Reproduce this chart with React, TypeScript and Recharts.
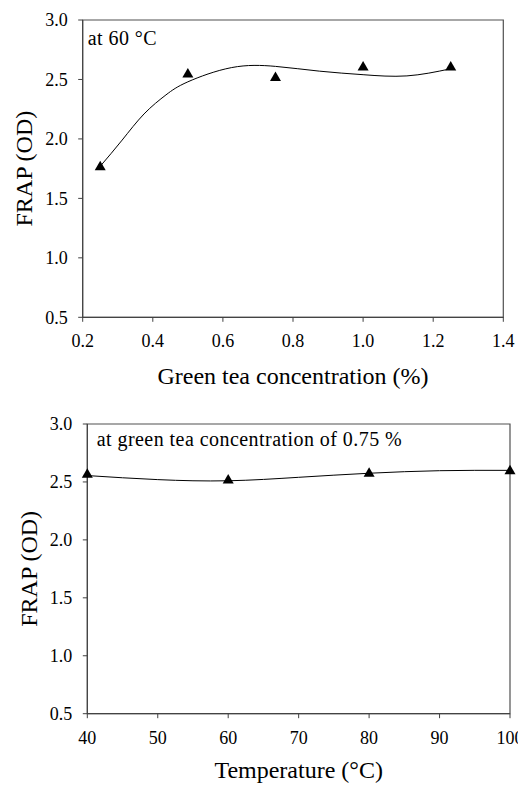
import React from "react";
import {
  ComposedChart,
  Line,
  Scatter,
  XAxis,
  YAxis,
  ReferenceArea,
} from "recharts";

// top panel: FRAP vs green tea concentration at 60 °C
const concMeasured = [0.25, 0.5, 0.75, 1.0, 1.25];
const frapByConc = [1.77, 2.55, 2.52, 2.61, 2.61];
const concTrendX = [0.25, 0.3125, 0.375, 0.4375, 0.5, 0.625, 0.75, 0.875, 1.0, 1.125, 1.25];
const concTrendY = [1.77, 1.99, 2.21, 2.37, 2.48, 2.6, 2.61, 2.57, 2.54, 2.53, 2.59];
const concTicks = [0.2, 0.4, 0.6, 0.8, 1.0, 1.2, 1.4];

// bottom panel: FRAP vs temperature at 0.75 % green tea
const tempMeasured = [40, 60, 80, 100];
const frapByTemp = [2.57, 2.52, 2.58, 2.6];
const tempTrendX = [40, 50, 60, 70, 80, 90, 100];
const tempTrendY = [2.555, 2.52, 2.51, 2.54, 2.575, 2.597, 2.6];
const tempTicks = [40, 50, 60, 70, 80, 90, 100];

const frapTicks = [0.5, 1.0, 1.5, 2.0, 2.5, 3.0];

const zip = (xs: number[], ys: number[]) => xs.map((x, i) => ({ x, y: ys[i] }));

const FONT = '"Liberation Serif", "Times New Roman", serif';
const AXIS = "#404040";
const tickStyle = { fill: "#000", fontSize: 18, fontFamily: FONT };
const titleStyle = { fill: "#000", fontSize: 24, fontFamily: FONT };

function Triangle(props: any) {
  const { cx, cy } = props;
  if (cx == null || cy == null) return null;
  return (
    <polygon
      points={`${cx},${cy - 5.5} ${cx - 5.5},${cy + 4} ${cx + 5.5},${cy + 4}`}
      fill="#000"
    />
  );
}

interface PanelProps {
  measured: { x: number; y: number }[];
  trend: { x: number; y: number }[];
  xTicks: number[];
  xDomain: [number, number];
  xFormat: (v: number) => string;
  xTitle: string;
  width: number;
  height: number;
  margin: { top: number; right: number; bottom: number; left: number };
  yAxisWidth: number;
  xAxisHeight: number;
  xTickMargin: number;
  xTitleOffset: number;
  yTitleOffset: number;
}

function Panel(p: PanelProps) {
  return (
    <ComposedChart width={p.width} height={p.height} margin={p.margin}>
      <XAxis
        dataKey="x"
        type="number"
        domain={p.xDomain}
        ticks={p.xTicks}
        interval={0}
        tickFormatter={p.xFormat}
        height={p.xAxisHeight}
        tickSize={4.5}
        tickMargin={p.xTickMargin}
        stroke={AXIS}
        tick={tickStyle}
        label={{ value: p.xTitle, position: "insideBottom", offset: p.xTitleOffset, style: titleStyle }}
      />
      <YAxis
        type="number"
        domain={[0.5, 3]}
        ticks={frapTicks}
        interval={0}
        tickFormatter={(v: number) => v.toFixed(1)}
        width={p.yAxisWidth}
        tickSize={4.5}
        tickMargin={10.5}
        stroke={AXIS}
        tick={tickStyle}
        label={{
          value: "FRAP (OD)",
          angle: -90,
          position: "insideLeft",
          offset: p.yTitleOffset,
          style: { ...titleStyle, textAnchor: "middle" },
        }}
      />
      <ReferenceArea
        x1={p.xDomain[0]}
        x2={p.xDomain[1]}
        y1={0.5}
        y2={3}
        fill="none"
        stroke="#505050"
        strokeWidth={1.2}
        ifOverflow="visible"
      />
      <Line
        data={p.trend}
        dataKey="y"
        type="natural"
        stroke="#000"
        strokeWidth={1}
        dot={false}
        activeDot={false}
        isAnimationActive={false}
      />
      <Scatter data={p.measured} dataKey="y" shape={<Triangle />} isAnimationActive={false} />
    </ComposedChart>
  );
}

const noteStyle: React.CSSProperties = {
  position: "absolute",
  fontFamily: FONT,
  fontSize: 20,
  lineHeight: "20px",
  letterSpacing: 0.45,
  color: "#000",
  whiteSpace: "nowrap",
};

export default function App() {
  return (
    <div
      style={{
        position: "absolute",
        left: 0,
        top: 0,
        width: 518,
        height: 785,
        background: "#fff",
        overflow: "hidden",
      }}
    >
      <div style={{ position: "absolute", left: 0, top: 0 }}>
        <Panel
          measured={zip(concMeasured, frapByConc)}
          trend={zip(concTrendX, concTrendY)}
          xTicks={concTicks}
          xDomain={[0.2, 1.4]}
          xFormat={(v) => v.toFixed(1)}
          xTitle="Green tea concentration (%)"
          width={518}
          height={400}
          margin={{ top: 20, right: 14.7, bottom: 0, left: 0 }}
          yAxisWidth={82.7}
          xAxisHeight={82.7}
          xTickMargin={12.6}
          xTitleOffset={16}
          yTitleOffset={23}
        />
      </div>
      <div style={{ ...noteStyle, left: 87.7, top: 28.3 }}>at 60 °C</div>

      <div style={{ position: "absolute", left: 0, top: 404 }}>
        <Panel
          measured={zip(tempMeasured, frapByTemp)}
          trend={zip(tempTrendX, tempTrendY)}
          xTicks={tempTicks}
          xDomain={[40, 100]}
          xFormat={(v) => String(v)}
          xTitle="Temperature (°C)"
          width={518}
          height={381}
          margin={{ top: 20, right: 8, bottom: 0, left: 0 }}
          yAxisWidth={87.3}
          xAxisHeight={71.3}
          xTickMargin={13.5}
          xTitleOffset={7}
          yTitleOffset={28.3}
        />
      </div>
      <div style={{ ...noteStyle, left: 96.7, top: 429 }}>
        at green tea concentration of 0.75 %
      </div>
    </div>
  );
}
